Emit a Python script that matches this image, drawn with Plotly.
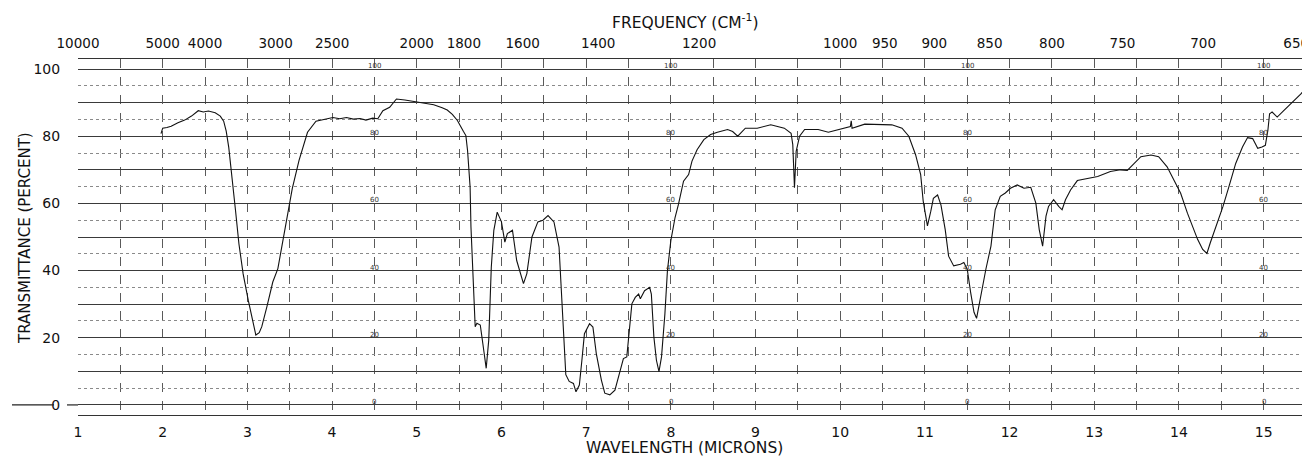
import plotly.graph_objects as go

# Spectrum (wavelength in microns, transmittance in %)
wavelength = [
    1.98, 2.00, 2.05, 2.10, 2.18, 2.26, 2.34, 2.42, 2.48, 2.54, 2.62, 2.68, 2.72, 2.75, 2.78,
    2.82, 2.86, 2.90, 2.95, 3.01, 3.05, 3.10, 3.14, 3.17, 3.23, 3.30, 3.36, 3.43, 3.49, 3.53,
    3.61, 3.71, 3.81, 3.93, 4.01, 4.09, 4.17, 4.25, 4.33, 4.40, 4.48, 4.54, 4.60, 4.68, 4.76,
    4.86, 4.96, 5.08, 5.20, 5.30, 5.36, 5.42, 5.48, 5.55, 5.58, 5.60, 5.63, 5.64, 5.67, 5.69,
    5.71, 5.75, 5.78, 5.82, 5.85, 5.88, 5.91, 5.95, 6.00, 6.04, 6.07, 6.13, 6.18, 6.26, 6.30,
    6.36, 6.43, 6.49, 6.55, 6.62, 6.68, 6.71, 6.74, 6.76, 6.80, 6.85, 6.88, 6.92, 6.95, 6.98,
    7.04, 7.08, 7.12, 7.18, 7.22, 7.28, 7.34, 7.40, 7.44, 7.48, 7.50, 7.54, 7.58, 7.62, 7.64,
    7.69, 7.75, 7.77, 7.80, 7.83, 7.86, 7.89, 7.93, 7.96, 8.00, 8.05, 8.09, 8.15, 8.21, 8.25,
    8.31, 8.39, 8.47, 8.55, 8.67, 8.73, 8.79, 8.88, 9.02, 9.18, 9.34, 9.42, 9.44, 9.46, 9.48,
    9.52, 9.58, 9.74, 9.86, 9.98, 10.12, 10.13, 10.14, 10.29, 10.45, 10.61, 10.73, 10.81, 10.89, 10.95,
    10.98, 11.03, 11.07, 11.10, 11.15, 11.19, 11.24, 11.28, 11.34, 11.42, 11.46, 11.50, 11.54, 11.58, 11.61,
    11.66, 11.72, 11.78, 11.83, 11.89, 11.95, 12.01, 12.09, 12.17, 12.25, 12.31, 12.35, 12.39, 12.43, 12.46,
    12.52, 12.58, 12.62, 12.66, 12.72, 12.80, 12.92, 13.04, 13.19, 13.31, 13.39, 13.47, 13.55, 13.67, 13.76,
    13.86, 13.94, 14.02, 14.10, 14.16, 14.22, 14.28, 14.33, 14.37, 14.45, 14.52, 14.59, 14.67, 14.75, 14.81,
    14.87, 14.93, 14.98, 15.02, 15.05, 15.07, 15.10, 15.16, 15.24, 15.32, 15.44, 15.50,
]
transmittance = [
    80.8, 82.4, 82.6, 83.0, 84.0, 84.8, 86.0, 87.6, 87.2, 87.5, 87.0, 86.0, 84.5, 81.5, 76.7,
    67.8, 57.9, 48.0, 39.0, 31.2, 26.2, 20.8, 21.5, 23.3, 29.2, 36.6, 40.6, 50.0, 58.9, 64.4,
    72.8, 81.2, 84.5, 85.1, 85.6, 85.2, 85.6, 85.1, 85.3, 84.8, 85.4, 85.2, 87.6, 88.6, 91.1,
    90.8, 90.4, 90.0, 89.4, 88.5, 87.8, 86.5, 84.7, 81.5, 80.2, 75.7, 64.9, 53.0, 33.0, 23.3,
    24.3, 23.8, 18.3, 10.9, 19.3, 41.0, 52.0, 57.4, 54.5, 48.5, 51.0, 52.0, 43.0, 36.1, 39.1,
    50.0, 54.5, 55.0, 56.4, 54.5, 47.0, 33.0, 15.0, 9.0, 7.0, 6.4, 3.9, 5.9, 13.3, 21.2,
    24.2, 23.2, 15.3, 7.4, 3.5, 3.0, 4.4, 10.4, 13.8, 14.3, 20.2, 30.1, 32.0, 33.0, 31.6,
    34.0, 35.0, 33.0, 20.2, 13.3, 9.9, 14.3, 27.1, 40.0, 48.9, 55.8, 59.7, 66.6, 68.6, 72.6,
    76.0, 79.0, 80.5, 81.2, 82.0, 81.4, 80.0, 82.4, 82.4, 83.4, 82.4, 80.9, 77.5, 64.7, 75.5,
    80.0, 82.0, 82.0, 81.2, 82.0, 82.9, 84.6, 82.4, 83.6, 83.6, 83.4, 82.4, 80.0, 74.5, 68.6,
    60.7, 53.3, 57.7, 61.5, 62.5, 59.5, 52.2, 44.3, 41.4, 41.9, 42.4, 40.4, 33.5, 27.6, 25.8,
    32.5, 40.4, 47.3, 58.1, 62.1, 63.1, 64.5, 65.5, 64.5, 64.8, 60.1, 52.2, 47.3, 56.2, 59.1,
    61.1, 59.1, 58.1, 61.1, 64.0, 66.8, 67.5, 68.0, 69.5, 70.0, 69.8, 71.9, 73.9, 74.4, 73.9,
    70.9, 67.0, 63.0, 57.1, 53.2, 49.3, 46.3, 45.1, 48.3, 54.2, 59.1, 65.0, 71.9, 76.8, 79.6,
    79.3, 76.4, 76.8, 77.3, 81.8, 86.7, 87.2, 85.7, 87.7, 89.7, 92.6, 94.5,
]

# Axis tick labels
wavelength_ticks = list(range(1, 16))
frequency_ticks = [10000, 5000, 4000, 3000, 2500, 2000, 1800, 1600, 1400, 1200,
                   1000, 950, 900, 850, 800, 750, 700, 650]
percent_ticks = [0, 20, 40, 60, 80, 100]
half_decade_lines = [5, 15, 25, 35, 45, 55, 65, 75, 85, 95]
paper_label_values = [0, 20, 40, 60, 80, 100]
paper_label_columns = [4.5, 8, 11.5, 15]

FONT = "DejaVu Sans"
XR = [1, 15.5]
YR = [-3, 103]

# The page body has an 8px default margin: size the figure so the plot area
# lands at page pixels x 78..1306, y 59..415.
OFF = 8
FW, FH = 1302, 448
ML, MR, MT = 78 - OFF, 4, 59 - OFF
PW = FW - ML - MR
PH = 356
MB = FH - MT - PH


def px(xp):
    return (xp - OFF - ML) / PW


def py(yp):
    return 1 - (yp - OFF - MT) / PH


fig = go.Figure()
fig.add_trace(go.Scatter(
    x=wavelength, y=transmittance, mode="lines",
    line=dict(color="#111111", width=1.1), showlegend=False, hoverinfo="skip",
))
# carrier for the frequency (top) axis and the dotted half-decade grid
fig.add_trace(go.Scatter(
    x=wavelength, y=transmittance, mode="lines", xaxis="x2", yaxis="y2",
    line=dict(color="rgba(0,0,0,0)", width=0), showlegend=False, hoverinfo="skip",
))

annotations = []
for xc in paper_label_columns:
    for v in paper_label_values:
        annotations.append(dict(
            x=xc, y=v, xref="x", yref="y", text=str(v), showarrow=False,
            font=dict(family=FONT, size=7, color="#333"), yshift=3,
        ))
annotations += [
    dict(text="WAVELENGTH (MICRONS)", xref="paper", yref="paper",
         x=px(684), y=py(448), xanchor="center", yanchor="middle",
         showarrow=False, font=dict(family=FONT, size=15.5, color="#111")),
    dict(text="FREQUENCY (CM<sup>-1</sup>)", xref="paper", yref="paper",
         x=px(685), y=py(21), xanchor="center", yanchor="middle",
         showarrow=False, font=dict(family=FONT, size=15.5, color="#111")),
    dict(text="TRANSMITTANCE (PERCENT)", xref="paper", yref="paper",
         x=px(25), y=py(238), xanchor="center", yanchor="middle",
         textangle=-90, showarrow=False, font=dict(family=FONT, size=15, color="#111")),
]

fig.update_layout(
    width=FW, height=FH,
    margin=dict(l=ML, r=MR, t=MT, b=MB, autoexpand=False),
    paper_bgcolor="white", plot_bgcolor="white",
    font=dict(family=FONT, color="#111"),
    xaxis=dict(
        range=XR, tickmode="array", tickvals=wavelength_ticks,
        ticktext=[str(t) for t in wavelength_ticks], automargin=False,
        ticks="outside", ticklen=4, tickcolor="rgba(0,0,0,0)",
        tickfont=dict(size=14, family=FONT, color="#111"),
        showgrid=True, gridcolor="#5a5a5a", gridwidth=1, griddash="dash",
        minor=dict(dtick=0.5, tick0=1, showgrid=True, gridcolor="#5a5a5a", gridwidth=1, griddash="dash"),
        showline=True, linecolor="#333", linewidth=1.2, zeroline=False,
    ),
    xaxis2=dict(
        range=XR, overlaying="x", side="top", tickmode="array", automargin=False,
        tickvals=[1e4 / f for f in frequency_ticks],
        ticktext=[str(f) for f in frequency_ticks],
        ticklabeloverflow="allow",
        ticks="outside", ticklen=5, tickcolor="rgba(0,0,0,0)",
        tickfont=dict(size=13.5, family=FONT, color="#111"),
        showgrid=False, showline=True, linecolor="#333", linewidth=1.2, zeroline=False,
    ),
    yaxis=dict(
        range=YR, tickmode="array", tickvals=percent_ticks,
        ticktext=[str(v) for v in percent_ticks], automargin=False,
        ticks="outside", ticklen=14, tickcolor="rgba(0,0,0,0)",
        tickfont=dict(size=14, family=FONT, color="#111"),
        showgrid=True, gridcolor="#3a3a3a", gridwidth=1,
        minor=dict(dtick=10, tick0=0, showgrid=True, gridcolor="#3a3a3a", gridwidth=1),
        showline=False, zeroline=False,
    ),
    yaxis2=dict(
        range=YR, overlaying="y", tickmode="array", tickvals=half_decade_lines,
        showticklabels=False, ticks="", automargin=False,
        showgrid=True, gridcolor="#8a8a8a", gridwidth=1, griddash="dot",
        showline=False, zeroline=False,
    ),
    annotations=annotations,
    shapes=[
        dict(type="line", xref="paper", yref="y", x0=px(12), x1=px(54), y0=0, y1=0,
             line=dict(color="#222", width=1.2)),
        dict(type="line", xref="paper", yref="y", x0=px(67), x1=0, y0=0, y1=0,
             line=dict(color="#222", width=1.2)),
    ],
)

fig.write_html("out.html")
